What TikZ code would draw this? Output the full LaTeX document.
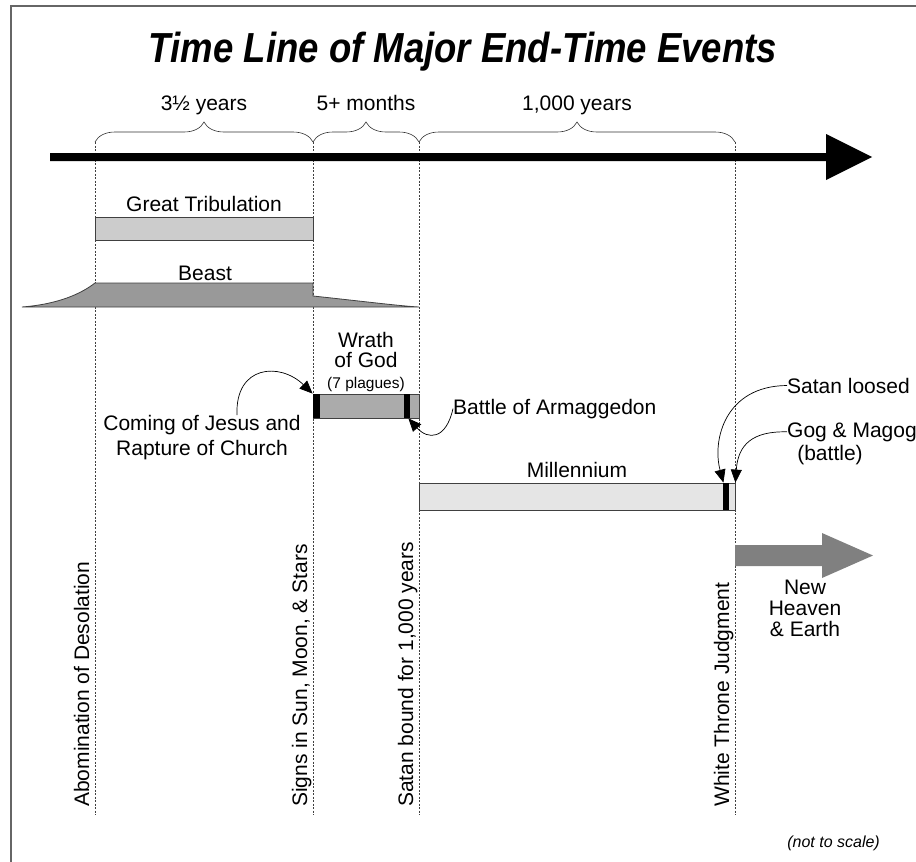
\documentclass[tikz,border=0pt]{standalone}
\usepackage{fontspec}
\usepackage{graphicx}
\setmainfont{Liberation Sans}
\usetikzlibrary{arrows.meta,decorations.pathreplacing,positioning}

\definecolor{tribgray}{gray}{0.80}
\definecolor{beastgray}{gray}{0.60}
\definecolor{wrathgray}{gray}{0.67}
\definecolor{millgray}{gray}{0.90}
\definecolor{newgray}{gray}{0.50}
\definecolor{edgegray}{gray}{0.25}

\tikzset{
  lbl/.style={font=\fontsize{21}{25}\selectfont, inner sep=0pt},
  vlbl/.style={lbl, rotate=90, anchor=base west},
  guide/.style={draw=black!75, line width=0.6pt, dash pattern=on 2pt off 1.5pt},
  period/.style={draw=edgegray, line width=0.8pt, inner sep=0pt},
  spanbrace/.style={decorate, decoration={brace, amplitude=20pt}, draw=black!80, line width=0.6pt},
  pointer/.style={-{Triangle[length=13pt,width=11pt]}, line width=0.7pt}
}

\begin{document}
\begin{tikzpicture}[x=1pt,y=-1pt]
\useasboundingbox (0,0) rectangle (916,862);
% frame
\draw[black!60, line width=2pt] (11,862) -- (11,6) -- (916,6);

\node[anchor=base, inner sep=0pt, font=\bfseries\itshape\fontsize{42}{42}\selectfont] (title) at (463,62)
  {\scalebox{0.87}[1]{Time Line of Major End-Time Events}};

% guide lines
\foreach \xx/\nm in {95/abom, 313/signs, 419/bound, 735/judg} {
  \coordinate (\nm-top) at (\xx,142);
  \coordinate (\nm-bot) at (\xx,815);
  \draw[guide] (\nm-top) -- (\nm-bot);
}

% main time line
\fill (50,153) -- (826,153) -- (826,134) -- (872,157) -- (826,180) -- (826,161) -- (50,161) -- cycle;

% spans
\draw[spanbrace] (abom-top) -- (signs-top) node[lbl, midway, anchor=base, yshift=32pt] (span1) {3½ years};
\draw[spanbrace] (signs-top) -- (bound-top) node[lbl, midway, anchor=base, yshift=32pt] (span2) {5+ months};
\draw[spanbrace] (bound-top) -- (judg-top) node[lbl, midway, anchor=base, yshift=32pt] (span3) {1,000 years};

% great tribulation
\node[period, fill=tribgray, minimum width=218pt, minimum height=23pt] (trib) at (204,228.5) {};
\node[lbl, above=5pt of trib] (triblbl) {Great Tribulation};

% beast
\filldraw[fill=beastgray, draw=edgegray, line width=0.8pt]
  (22,307) .. controls (60,304) and (82,293) .. (95,283) -- (313,283) -- (313,296)
  .. controls (360,301) and (400,306) .. (419,307) -- cycle;
\node[lbl, anchor=base] (beastlbl) at (205,280) {Beast};

% wrath of god
\node[period, fill=wrathgray, minimum width=106pt, minimum height=24pt] (wrath) at (366,406) {};
\fill (wrath.north west) rectangle ([xshift=7pt]wrath.south west);
\fill ([xshift=-15pt]wrath.north east) rectangle ([xshift=-9pt]wrath.south east);
\coordinate (armag) at ([xshift=-11pt]wrath.south east);
\node[lbl, align=center, anchor=south, font=\fontsize{21}{20}\selectfont] (wrathlbl) at (366,368) {Wrath\\of God};
\node[anchor=base, inner sep=0pt, font=\fontsize{15.5}{18}\selectfont] (plagues) at (366,388) {(7 plagues)};

\node[lbl, align=center, anchor=north] (coming) at (202,415) {Coming of Jesus and\\Rapture of Church};
\draw[pointer] ([xshift=35pt]coming.north) .. controls (235,365) and (280,362) .. (wrath.north west);

\node[lbl, anchor=base west] (battle) at (453,414) {Battle of Armaggedon};
\draw[pointer] (battle.west) .. controls (446,440) and (428,440) .. (armag);

% millennium
\node[period, fill=millgray, minimum width=316pt, minimum height=27pt] (mill) at (577,496.5) {};
\fill ([xshift=-12pt]mill.north east) rectangle ([xshift=-6pt]mill.south east);
\coordinate (loosedtip) at ([xshift=-12pt]mill.north east);
\coordinate (gogtip) at (mill.north east);
\node[lbl, above=5pt of mill] (milllbl) {Millennium};

\node[lbl, anchor=base west] (loosed) at (787,393) {Satan loosed};
\node[lbl, anchor=base west] (gog) at (787,437) {Gog \& Magog};
\node[lbl, anchor=base] (gogbattle) at (830,460) {(battle)};
\draw[pointer] (loosed.west) .. controls (725,386) and (712,440) .. (loosedtip);
\draw[pointer] (gog.west) .. controls (752,431) and (738,445) .. (gogtip);

% new heaven and earth
\fill[newgray] (735,545) -- (822,545) -- (822,533) -- (873,555.5) -- (822,578) -- (822,566) -- (735,566) -- cycle;
\node[lbl, align=center, anchor=north, font=\fontsize{21}{21}\selectfont] (newearth) at (805,580) {New\\Heaven\\\& Earth};

% events on the guide lines
\foreach \nm/\txt in {abom/Abomination of Desolation, signs/{Signs in Sun, Moon, \& Stars},
                      bound/{Satan bound for 1,000 years}, judg/White Throne Judgment}
  \node[vlbl] (\nm-lbl) at ([xshift=-6pt, yshift=8pt]\nm-bot) {\txt};

\node[anchor=base east, inner sep=0pt, font=\itshape\fontsize{16}{16}\selectfont] (noscale) at (880,847) {(not to scale)};
\end{tikzpicture}
\end{document}
